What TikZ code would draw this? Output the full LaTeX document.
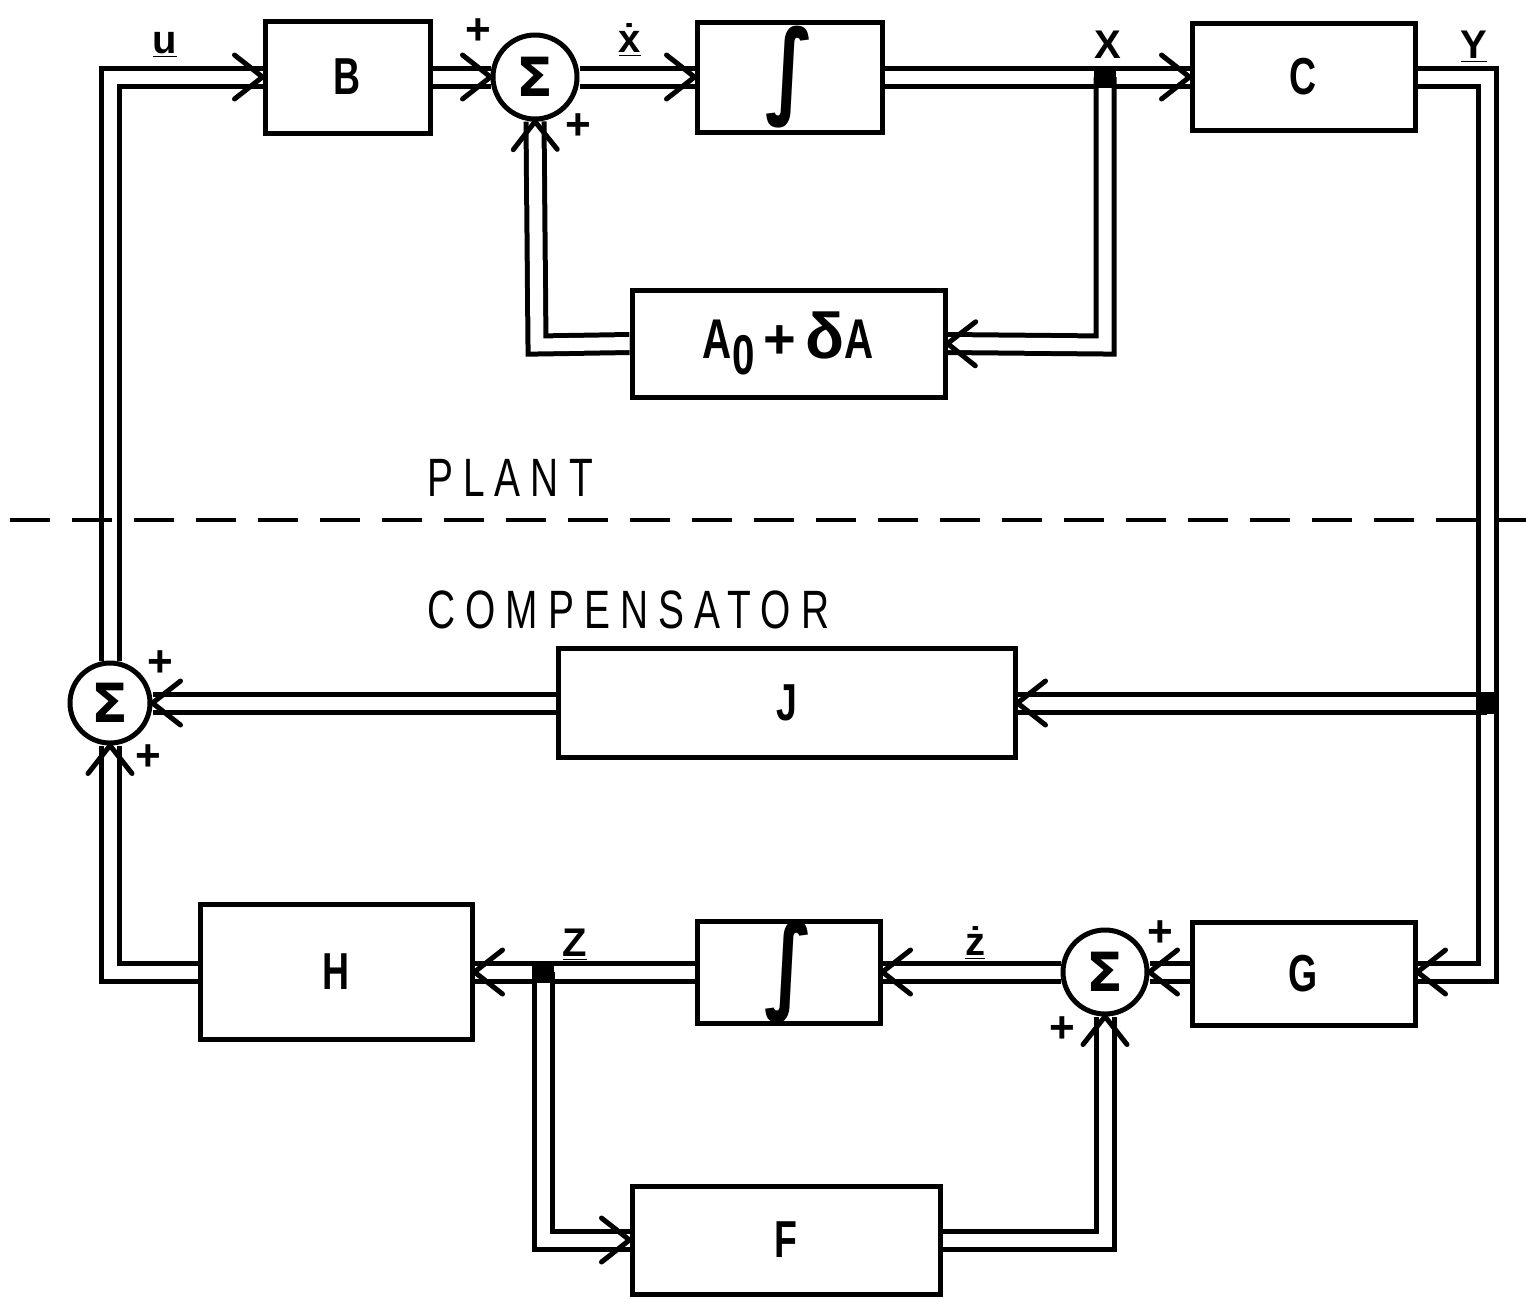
\documentclass[tikz,border=0pt]{standalone}
\usepackage{fontspec}
\setmainfont{Liberation Sans}
\newfontfamily\spacedfont{Liberation Sans}[LetterSpace=26]
\newfontfamily\symfont{DejaVu Sans}
\usetikzlibrary{decorations.markings,backgrounds}
\newcommand\nrw[1]{\scalebox{0.72}[1]{#1}}
\tikzset{
  blk/.style={draw, line width=2.5pt, rectangle, inner sep=0pt, font=\bfseries\fontsize{26}{26}\selectfont},
  sumnode/.style={draw, circle, line width=2.5pt, minimum size=42pt, inner sep=0pt, font=\symfont\bfseries\fontsize{27}{27}\selectfont},
  vec/.style={double, line width=2.5pt, double distance=6.5pt},
  vecarrow/.style={vec, postaction={decorate, decoration={markings, mark=at position 1 with {\draw[line width=2.5pt, line cap=round, line join=round] (-14pt,11pt) -- (0pt,0pt) -- (-14pt,-11pt);}}}},
  junc/.style={fill, rectangle, minimum size=11pt, inner sep=0pt},
  sig/.style={font=\bfseries\fontsize{20}{20}\selectfont},
  plus/.style={font=\bfseries\fontsize{22}{22}\selectfont},
  integ/.style={font=\symfont\bfseries\fontsize{40}{40}\selectfont},
  banner/.style={font=\spacedfont\fontsize{27}{27}\selectfont, anchor=west}
}
\begin{document}
\begin{tikzpicture}[x=0.5pt,y=-0.5pt]
\useasboundingbox (0,0) rectangle (1526,1298);
% blocks
\node[blk, minimum width=82.5pt, minimum height=56pt] (B) at (347.5,77) {\nrw{B}};
\node[sumnode] (s1) at (535,77) {Σ};
\node[blk, minimum width=92.5pt, minimum height=55pt, integ] (I1) at (789.5,77) {\scalebox{1}[1.3]{∫}};
\node[junc] (X) at (1105,77) {};
\node[blk, minimum width=111.5pt, minimum height=53.5pt] (C) at (1303.5,77) {\nrw{C}};
\node[blk, minimum width=156.5pt, minimum height=53.5pt, font=\bfseries\fontsize{28}{28}\selectfont] (A) at (788.5,343.5) {\nrw{A}\raisebox{-8pt}{\nrw{0}}\,+\,\scalebox{1.15}{δ}\nrw{A}};
\node[blk, minimum width=228.5pt, minimum height=54.5pt] (J) at (786.5,703) {\nrw{J}};
\node[sumnode, minimum size=40pt] (s3) at (110,703) {Σ};
\node[junc] (Yj) at (1487,703) {};
\node[blk, minimum width=136pt, minimum height=67.5pt] (H) at (336,972) {\nrw{H}};
\node[junc] (Z) at (543,972) {};
\node[blk, minimum width=91.5pt, minimum height=48.5pt, integ] (I2) at (788.5,972) {\scalebox{1}[1.3]{∫}};
\node[sumnode] (s4) at (1105,972) {Σ};
\node[blk, minimum width=111.5pt, minimum height=51.5pt] (G) at (1303.5,974) {\nrw{G}};
\node[blk, minimum width=154pt, minimum height=54pt] (F) at (786,1240) {\nrw{F}};
% bend points
\coordinate (uc) at (110,77);
\coordinate (yc) at (1487,77);
\coordinate (gc) at (1487,972);
\coordinate (xa) at (1105,345);
\coordinate (as) at (537,345);
\coordinate (hc) at (110,972);
\coordinate (zf) at (543,1240);
\coordinate (fc) at (1105,1240);
% connectors
\begin{scope}[on background layer]
\draw[vecarrow] (s3.north) -- (uc) -- (B.west);
\draw[vecarrow] (B.east) -- (s1.west);
\draw[vecarrow] (s1.east) -- (I1.west);
\draw[vecarrow] (I1.east) -- (C.west);
\draw[vecarrow] (X.center) -- (xa) -- (A.east);
\draw[vecarrow] (A.west) -- (as) -- (s1.south);
\draw[vecarrow] (C.east) -- (yc) -- (gc) -- (gc -| G.east);
\draw[vecarrow] (Yj.center) -- (J.east);
\draw[vecarrow] (J.west) -- (s3.east);
\draw[vecarrow] (G.west |- s4.east) -- (s4.east);
\draw[vecarrow] (s4.west) -- (I2.east);
\draw[vecarrow] (I2.west) -- (H.east);
\draw[vecarrow] (Z.center) -- (zf) -- (F.west);
\draw[vecarrow] (F.east) -- (fc) -- (s4.south);
\draw[vecarrow] (H.west) -- (hc) -- (s3.south);
\end{scope}
% plant / compensator divider
\coordinate (dl) at (10,520);
\coordinate (dr) at (1526,520);
\draw[line width=2pt, dash pattern=on 20pt off 11pt] (dl) -- (dr);
\node[banner] (plant) at (420,478) {\scalebox{0.72}[1]{PLANT}};
\node[banner] (comp) at (420,610) {\scalebox{0.72}[1]{COMPENSATOR}};
% signal labels
\node[sig] (lu) at (165,45) {\underline{u}};
\node[sig] (lxd) at (630,40) {\underline{\.{x}}};
\node[sig] (lx) at (1108,45) {X};
\node[sig] (ly) at (1474,47) {\underline{Y}};
\node[sig] (lz) at (575,945) {\underline{Z}};
\node[sig] (lzd) at (975,943) {\underline{ż}};
% signs
\node[plus] (p1) at (478,32) {+};
\node[plus] (p2) at (578,127) {+};
\node[plus] (p3) at (160,664) {+};
\node[plus] (p4) at (148,758) {+};
\node[plus] (p5) at (1160,934) {+};
\node[plus] (p6) at (1062,1030) {+};
\end{tikzpicture}
\end{document}
